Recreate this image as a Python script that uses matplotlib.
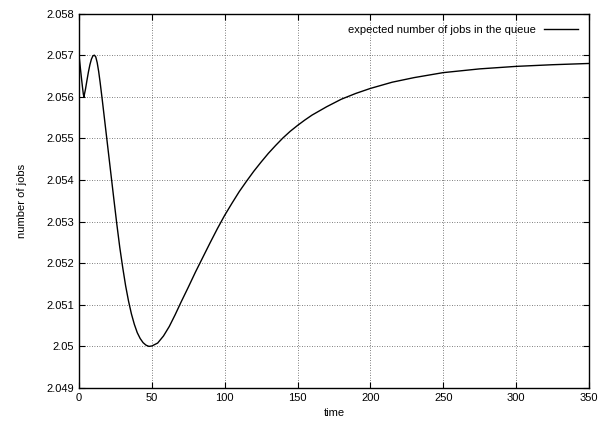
import numpy as np
import matplotlib
matplotlib.use('Agg')
import matplotlib.pyplot as plt
from matplotlib.ticker import FuncFormatter

plt.rcParams['font.family'] = ['Liberation Sans', 'DejaVu Sans']

# values
time = [0, 0.8, 1.6, 2.5, 3.0, 3.4, 4.5, 5.5, 6.5, 7.5, 8.5, 9.5, 10.5,
        11.5, 12.5, 13.5, 14.5, 16, 18, 20, 22, 24, 26, 28, 30, 32, 34, 36,
        38, 40, 42, 44, 46, 48, 50, 54, 58, 62, 66, 70, 75, 80, 85, 90, 95,
        100, 105, 110, 115, 120, 125, 130, 135, 140, 145, 150, 155, 160, 170,
        180, 190, 200, 215, 230, 250, 275, 300, 325, 350]
jobs = [2.05700, 2.05674, 2.05648, 2.05620, 2.05606, 2.05600, 2.05619,
        2.05640, 2.05660, 2.05677, 2.05690, 2.05698, 2.05700,
        2.05696, 2.05682, 2.05661, 2.05635, 2.05592, 2.05532, 2.05472,
        2.05412, 2.05352, 2.05293, 2.05238, 2.05190, 2.05146, 2.05109,
        2.05078, 2.05053, 2.05033, 2.05019, 2.05009, 2.05003, 2.05000,
        2.05001, 2.05008, 2.05025, 2.05048, 2.05076, 2.05106, 2.05142,
        2.05179, 2.05214, 2.05249, 2.05283, 2.05315, 2.05344, 2.05372,
        2.05397, 2.05421, 2.05443, 2.05464, 2.05483, 2.05501, 2.05517,
        2.05531, 2.05544, 2.05556, 2.05576, 2.05594, 2.05608, 2.05620,
        2.05635, 2.05646, 2.05658, 2.05667, 2.05673, 2.05677, 2.05680]

xticks = [0, 50, 100, 150, 200, 250, 300, 350]
yticks = [2.049, 2.05, 2.051, 2.052, 2.053, 2.054, 2.055, 2.056, 2.057, 2.058]

fig = plt.figure(figsize=(6.02, 4.26), dpi=100)
ax = fig.add_axes([0.1312, 0.0892, 0.847, 0.879])

ax.plot(time, jobs, color='black', lw=1.0, label='expected number of jobs in the queue')

ax.set_xlim(0, 350)
ax.set_ylim(2.049, 2.058)
ax.set_xticks(xticks)
ax.set_yticks(yticks)
ax.yaxis.set_major_formatter(FuncFormatter(lambda v, p: '%g' % round(v, 3)))
ax.tick_params(direction='in', top=True, right=True, labelsize=8, length=4, width=0.8)
ax.grid(True, color='#555555', linestyle=(0, (1, 2)), linewidth=0.6)
for s in ax.spines.values():
    s.set_linewidth(1.0)

ax.set_xlabel('time', fontsize=8, labelpad=4)
ax.set_ylabel('number of jobs', fontsize=8, labelpad=14)

ax.legend(loc='upper right', frameon=False, fontsize=8, markerfirst=False,
          handlelength=3, borderaxespad=0.6)

fig.savefig('out.png', dpi=100)
